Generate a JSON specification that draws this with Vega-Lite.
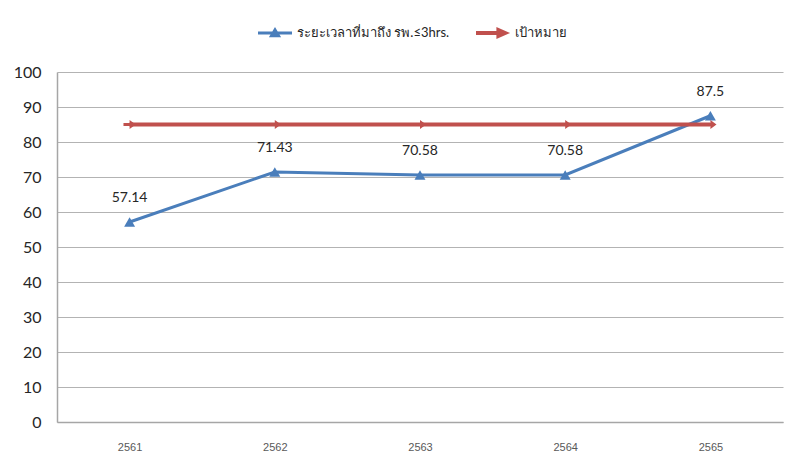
{
  "$schema": "https://vega.github.io/schema/vega-lite/v6.json",
  "width": 726,
  "height": 350,
  "autosize": {"type": "none"},
  "padding": {"left": 57, "top": 72, "right": 13, "bottom": 45},
  "background": "white",
  "config": {
    "view": {"stroke": null},
    "font": "Lato",
    "axis": {"ticks": false, "titleFontSize": 0}
  },
  "data": {
    "values": [
      {"year": "2561", "series": "ระยะเวลาที่มาถึง รพ.≤3hrs.", "value": 57.14},
      {"year": "2562", "series": "ระยะเวลาที่มาถึง รพ.≤3hrs.", "value": 71.43},
      {"year": "2563", "series": "ระยะเวลาที่มาถึง รพ.≤3hrs.", "value": 70.58},
      {"year": "2564", "series": "ระยะเวลาที่มาถึง รพ.≤3hrs.", "value": 70.58},
      {"year": "2565", "series": "ระยะเวลาที่มาถึง รพ.≤3hrs.", "value": 87.5},
      {"year": "2561", "series": "เป้าหมาย", "value": 85},
      {"year": "2562", "series": "เป้าหมาย", "value": 85},
      {"year": "2563", "series": "เป้าหมาย", "value": 85},
      {"year": "2564", "series": "เป้าหมาย", "value": 85},
      {"year": "2565", "series": "เป้าหมาย", "value": 85}
    ]
  },
  "encoding": {
    "x": {
      "field": "year",
      "type": "ordinal",
      "scale": {"paddingInner": 0, "paddingOuter": 0},
      "axis": {
        "title": null,
        "labelAngle": 0,
        "labelFont": "Liberation Sans",
        "labelFontSize": 11,
        "labelColor": "#595959",
        "labelPadding": 19,
        "domainColor": "#a6a6a6",
        "domainWidth": 1.5,
        "grid": false
      }
    },
    "y": {
      "field": "value",
      "type": "quantitative",
      "scale": {"domain": [0, 100], "nice": false},
      "axis": {
        "title": null,
        "values": [0, 10, 20, 30, 40, 50, 60, 70, 80, 90, 100],
        "labelFont": "Lato",
        "labelFontSize": 16,
        "labelColor": "#262626",
        "labelPadding": 16,
        "domainColor": "#a6a6a6",
        "domainWidth": 1.5,
        "grid": true,
        "gridColor": "#b3b3b3",
        "gridWidth": 1
      }
    },
    "color": {
      "field": "series",
      "type": "nominal",
      "scale": {
        "domain": ["ระยะเวลาที่มาถึง รพ.≤3hrs.", "เป้าหมาย"],
        "range": ["#4a7ebb", "#c0504d"]
      },
      "legend": {
        "title": null,
        "orient": "none",
        "direction": "horizontal",
        "legendX": 201,
        "legendY": -56,
        "padding": 0,
        "symbolSize": 1156,
        "labelOffset": 5,
        "columnPadding": 26,
        "labelFontSize": 13,
        "labelColor": "#262626",
        "labelFont": "Lato",
        "encode": {
          "symbols": {
            "update": {
              "shape": {"signal": "datum.value === 'เป้าหมาย' ? 'M-1,-0.12H0.2V-0.36L1,0L0.2,0.36V0.12H-1Z' : 'M-1,-0.09H1V0.09H-1Z M-0.36,0.25L0,-0.36L0.36,0.25Z'"},
              "fill": {"signal": "datum.value === 'เป้าหมาย' ? '#c0504d' : '#4a7ebb'"},
              "stroke": {"value": "transparent"},
              "strokeWidth": {"value": 0},
              "opacity": {"value": 1}
            }
          }
        }
      }
    }
  },
  "layer": [
    {
      "transform": [{"filter": "datum.series !== 'เป้าหมาย'"}],
      "mark": {"type": "line", "strokeWidth": 3}
    },
    {
      "transform": [{"filter": "datum.series !== 'เป้าหมาย'"}],
      "mark": {"type": "point", "shape": "triangle-up", "filled": true, "opacity": 1, "size": 120}
    },
    {
      "transform": [{"filter": "datum.series === 'เป้าหมาย'"}],
      "mark": {"type": "line", "strokeWidth": 4}
    },
    {
      "transform": [{"filter": "datum.series === 'เป้าหมาย'"}],
      "mark": {
        "type": "point",
        "shape": "M-1,-0.25H0V-0.75L1,0L0,0.75V0.25H-1Z",
        "filled": true,
        "opacity": 1,
        "size": 150
      }
    },
    {
      "transform": [{"filter": "datum.series !== 'เป้าหมาย'"}],
      "mark": {"type": "text", "dy": -24, "fontSize": 14, "font": "Lato", "color": "#262626"},
      "encoding": {
        "text": {"field": "value", "type": "quantitative"},
        "color": {"value": "#262626"}
      }
    }
  ]
}
